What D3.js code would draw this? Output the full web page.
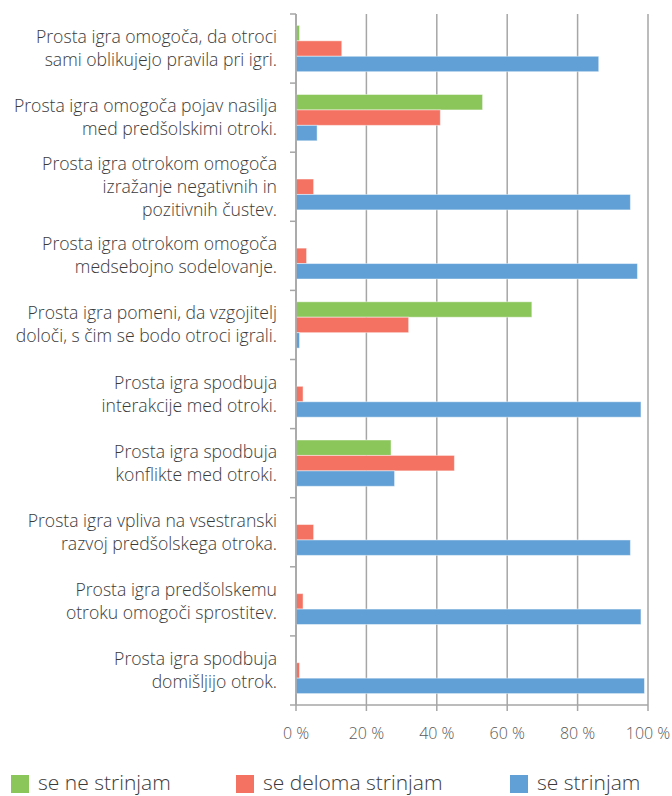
<!DOCTYPE html>
<html lang="sl">
<head>
<meta charset="UTF-8">
<title>Prosta igra</title>
<style>
    body { margin: 0; background: #fff; }
    text { font-family: "Open Sans", Lato, sans-serif; font-weight: 300; fill: #3a3a3a; }
    .grid line { stroke: #a6a6a6; stroke-width: 1.5; }
    .axis path, .axis line { stroke: #a6a6a6; stroke-width: 1.5; }
</style>
</head>
<body>
<script src="https://d3js.org/d3.v7.min.js"></script>
<script>
    const width = 672;
    const height = 796;

    // statements (one array entry per line of the label)
    const categories = [
        ['Prosta igra omogoča, da otroci', 'sami oblikujejo pravila pri igri.'],
        ['Prosta igra omogoča pojav nasilja', 'med predšolskimi otroki.'],
        ['Prosta igra otrokom omogoča', 'izražanje negativnih in', 'pozitivnih čustev.'],
        ['Prosta igra otrokom omogoča', 'medsebojno sodelovanje.'],
        ['Prosta igra pomeni, da vzgojitelj', 'določi, s čim se bodo otroci igrali.'],
        ['Prosta igra spodbuja', 'interakcije med otroki.'],
        ['Prosta igra spodbuja', 'konflikte med otroki.'],
        ['Prosta igra vpliva na vsestranski', 'razvoj predšolskega otroka.'],
        ['Prosta igra predšolskemu', 'otroku omogoči sprostitev.'],
        ['Prosta igra spodbuja', 'domišljijo otrok.']
    ];
    const seriesNames = ['se ne strinjam', 'se deloma strinjam', 'se strinjam'];
    const seriesColors = ['#8bc65b', '#f47262', '#61a0d6'];
    const neStrinjam = [1, 53, 0, 0, 67, 0, 27, 0, 0, 0];
    const delomaStrinjam = [13, 41, 5, 3, 32, 2, 45, 5, 2, 1];
    const strinjam = [86, 6, 95, 97, 1, 98, 28, 95, 98, 99];
    const xTicks = [0, 20, 40, 60, 80, 100];

    const values = [neStrinjam, delomaStrinjam, strinjam];

    const margin = {top: 14, left: 296, right: 24, bottom: 91};
    const plotW = width - margin.left - margin.right;
    const plotH = height - margin.top - margin.bottom;

    const svg = d3.select('body').append('svg').attr('width', width).attr('height', height);

    const x = d3.scaleLinear().domain([0, 100]).range([margin.left, margin.left + plotW]);
    const y = d3.scaleBand().domain(d3.range(categories.length)).range([margin.top, margin.top + plotH]).padding(0);
    const inner = d3.scaleBand().domain(d3.range(3))
        .range([y.bandwidth() * 0.165, y.bandwidth() * 0.835]).padding(0);

    // vertical gridlines, running a bit below the axis like tick marks
    svg.append('g').attr('class', 'grid')
        .selectAll('line').data(xTicks).enter().append('line')
        .attr('x1', d => x(d)).attr('x2', d => x(d))
        .attr('y1', margin.top).attr('y2', margin.top + plotH + 6);

    // bars
    const groups = svg.append('g').selectAll('g').data(categories).enter().append('g')
        .attr('transform', (d, i) => 'translate(0,' + y(i) + ')');

    groups.selectAll('rect')
        .data((d, i) => values.map((s, k) => ({k: k, v: s[i]})))
        .enter().append('rect')
        .attr('x', x(0))
        .attr('y', d => inner(d.k))
        .attr('width', d => x(d.v) - x(0))
        .attr('height', inner.bandwidth())
        .attr('fill', d => seriesColors[d.k])
        .attr('stroke', '#fff').attr('stroke-opacity', 0.45).attr('stroke-width', 1)
        .style('display', d => d.v > 0 ? null : 'none');

    // left axis with ticks on category boundaries
    const yEdges = d3.range(categories.length + 1).map(i => margin.top + i * y.step());
    const left = svg.append('g').attr('class', 'axis');
    left.append('line').attr('x1', x(0)).attr('x2', x(0))
        .attr('y1', margin.top).attr('y2', margin.top + plotH);
    left.selectAll('.tk').data(yEdges).enter().append('line')
        .attr('x1', x(0) - 6).attr('x2', x(0)).attr('y1', d => d).attr('y2', d => d);
    left.append('line').attr('x1', x(0)).attr('x2', x(100))
        .attr('y1', margin.top + plotH).attr('y2', margin.top + plotH);

    // category labels
    const lineH = 23;
    groups.append('text')
        .attr('text-anchor', 'end')
        .style('font-size', '17.6px')
        .selectAll('tspan').data(d => d).enter().append('tspan')
        .attr('x', 277)
        .attr('y', (d, j, nodes) => y.bandwidth() / 2 + (j - (nodes.length - 1) / 2) * lineH + 6)
        .text(d => d);

    // x tick labels
    svg.append('g').selectAll('text').data(xTicks).enter().append('text')
        .attr('x', d => x(d)).attr('y', 739)
        .attr('text-anchor', 'middle')
        .style('font-size', '16px').style('fill', '#595959')
        .text(d => d + ' %');

    // legend
    const legendX = [11, 236, 510];
    const legend = svg.append('g').selectAll('g').data(seriesNames).enter().append('g')
        .attr('transform', (d, i) => 'translate(' + legendX[i] + ',775)');
    legend.append('rect').attr('width', 18).attr('height', 18).attr('fill', (d, i) => seriesColors[i]);
    legend.append('text').attr('x', 27).attr('y', 15)
        .style('font-size', '21px')
        .text(d => d);
</script>
</body>
</html>
